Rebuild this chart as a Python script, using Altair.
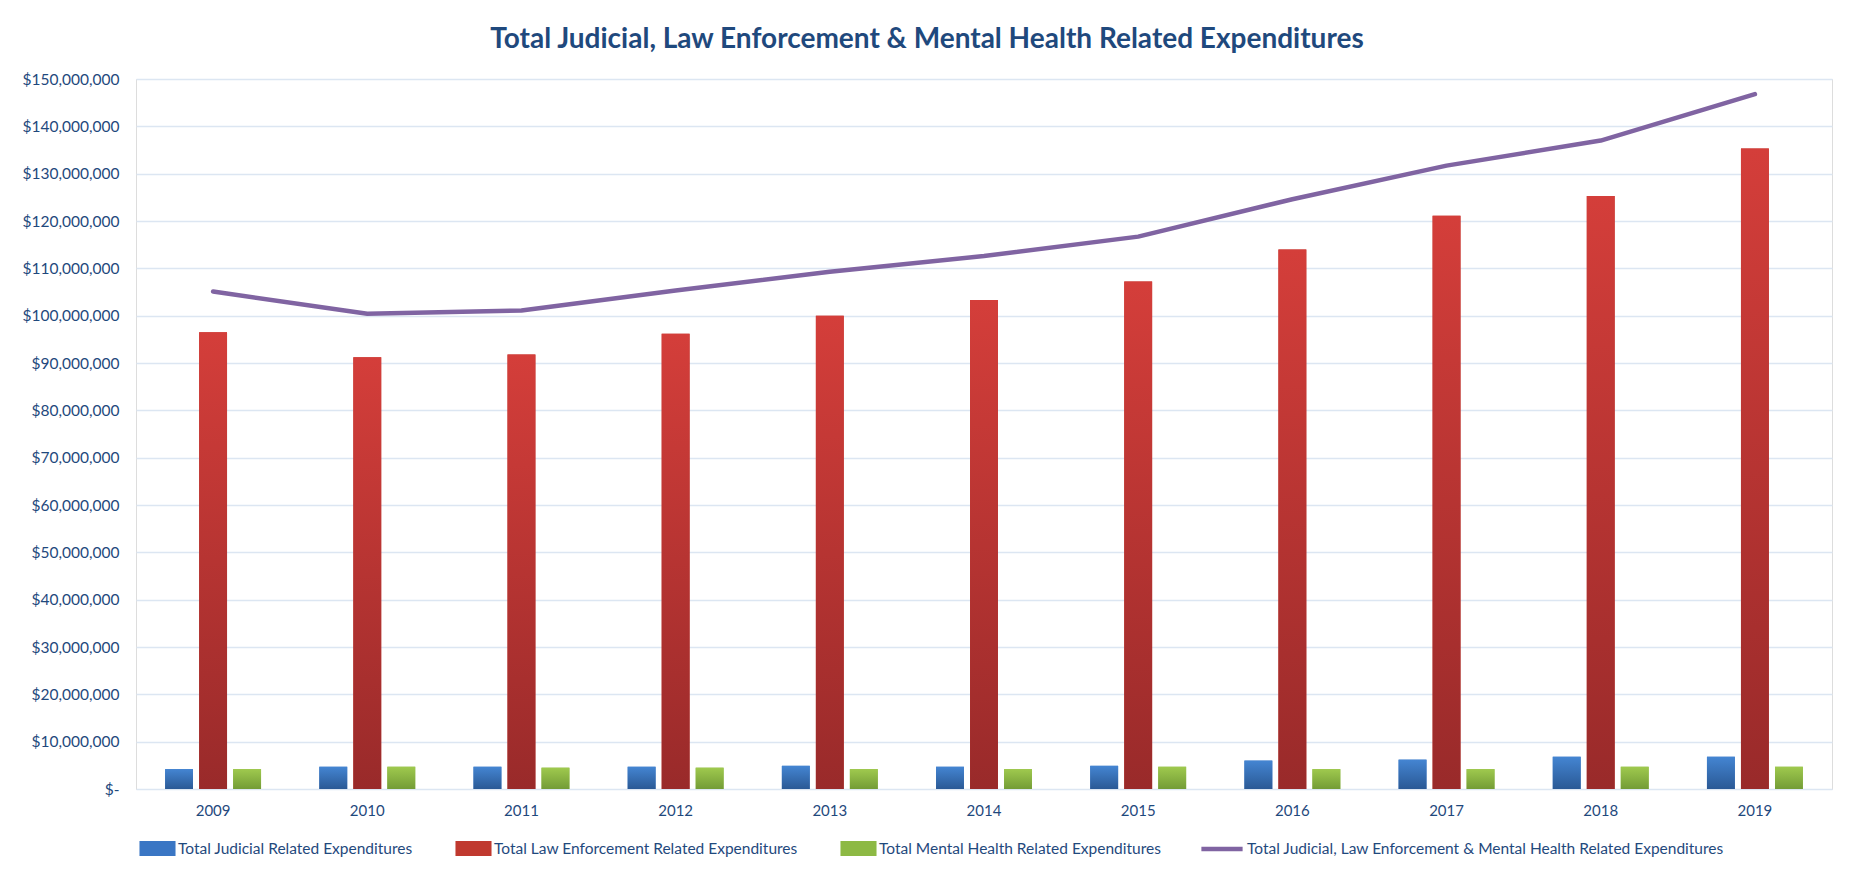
import altair as alt
import pandas as pd

years = ["2009", "2010", "2011", "2012", "2013", "2014", "2015", "2016", "2017", "2018", "2019"]
series_names = [
    "Total Judicial Related Expenditures",
    "Total Law Enforcement Related Expenditures",
    "Total Mental Health Related Expenditures",
]
line_name = "Total Judicial, Law Enforcement & Mental Health Related Expenditures"

# values in millions of dollars
judicial = [4.2, 4.7, 4.7, 4.7, 4.9, 4.7, 4.9, 6.0, 6.2, 6.8, 6.8]
law_enforcement = [96.5, 91.2, 91.8, 96.2, 100.0, 103.3, 107.2, 114.0, 121.1, 125.3, 135.3]
mental_health = [4.2, 4.7, 4.5, 4.5, 4.2, 4.2, 4.7, 4.2, 4.2, 4.7, 4.7]
total = [105.1, 100.4, 101.1, 105.3, 109.3, 112.6, 116.7, 124.6, 131.7, 137.0, 146.8]

solid_colors = ["#3A76C4", "#C0392F", "#8DB944"]
gradients = [
    ("#4485D2", "#2A5995"),
    ("#D43E3A", "#992A2A"),
    ("#9FC94E", "#739C36"),
]
line_color = "#8064A2"
text_color = "#1F497D"
grid_color = "#DCE6F2"
FONT = "Lato"

rows = []
for i, yr in enumerate(years):
    for name, vals in zip(series_names, [judicial, law_enforcement, mental_health]):
        rows.append({"year": yr, "series": name, "value": vals[i] * 1e6})
df = pd.DataFrame(rows)
line_df = pd.DataFrame({"year": years, "total": [v * 1e6 for v in total], "name": line_name})

x_enc = alt.X(
    "year:N",
    sort=years,
    scale=alt.Scale(paddingInner=0.378, paddingOuter=0.189),
    axis=alt.Axis(
        title=None, labelAngle=0, domain=False, ticks=False, labelPadding=14,
        labelFont=FONT, labelFontSize=15, labelColor=text_color, grid=False,
    ),
)
xo_enc = alt.XOffset(
    "series:N", sort=series_names,
    scale=alt.Scale(domain=series_names, paddingInner=0.18, paddingOuter=0),
)
y_axis = alt.Axis(
    title=None, domain=False, ticks=False, labelPadding=17,
    values=[v * 10000000 for v in range(16)],
    labelExpr="datum.value == 0 ? '$-' : '$' + format(datum.value, ',')",
    labelFont=FONT, labelFontSize=15.5, labelColor=text_color,
    grid=True, gridColor=grid_color, gridWidth=1.6,
)
y_scale = alt.Scale(domain=[0, 150000000], nice=False)

solid = alt.Chart(df).mark_bar().encode(
    x=x_enc, xOffset=xo_enc,
    y=alt.Y("value:Q", scale=y_scale, axis=y_axis),
    color=alt.Color(
        "series:N",
        scale=alt.Scale(domain=series_names, range=solid_colors),
        legend=alt.Legend(
            title=None, orient="none", legendX=3, legendY=751, direction="horizontal",
            labelFont=FONT, labelFontSize=15.5, labelColor=text_color, labelLimit=400,
            symbolType="M-1,-0.42L1,-0.42L1,0.42L-1,0.42Z", symbolSize=1300,
            symbolStrokeWidth=0, columnPadding=42, labelOffset=2,
        ),
    ),
)

layers = [solid]
for name, (top, bottom) in zip(series_names, gradients):
    grad = {
        "gradient": "linear", "x1": 0, "y1": 0, "x2": 0, "y2": 1,
        "stops": [{"offset": 0, "color": top}, {"offset": 1, "color": bottom}],
    }
    layers.append(
        alt.Chart(df).transform_filter(alt.datum.series == name).mark_bar(color=grad).encode(
            x=x_enc, xOffset=xo_enc,
            y=alt.Y("value:Q", scale=y_scale, axis=y_axis),
        )
    )

line = alt.Chart(line_df).mark_line(strokeWidth=4.5, strokeCap="round", strokeJoin="round").encode(
    x=x_enc,
    y=alt.Y("total:Q", scale=y_scale, axis=y_axis),
    stroke=alt.Stroke(
        "name:N",
        scale=alt.Scale(domain=[line_name], range=[line_color]),
        legend=alt.Legend(
            title=None, orient="none", legendX=1063, legendY=747, direction="horizontal",
            labelFont=FONT, labelFontSize=15.5, labelColor=text_color, labelLimit=700,
            symbolType="stroke", symbolSize=1700, symbolStrokeWidth=4.5, labelOffset=2,
        ),
    ),
)
layers.append(line)

chart = alt.layer(*layers).properties(
    width=1696, height=710,
    padding={"left": 14, "top": 18, "right": 10, "bottom": 5},
    title=alt.TitleParams(
        line_name, font=FONT, fontSize=28, fontWeight="bold", color=text_color,
        anchor="middle", frame="bounds", offset=18,
    ),
).resolve_scale(color="independent").configure_view(stroke=None).configure(background="white")

chart.save("out.html", embed_options={"renderer": "svg", "actions": False})
